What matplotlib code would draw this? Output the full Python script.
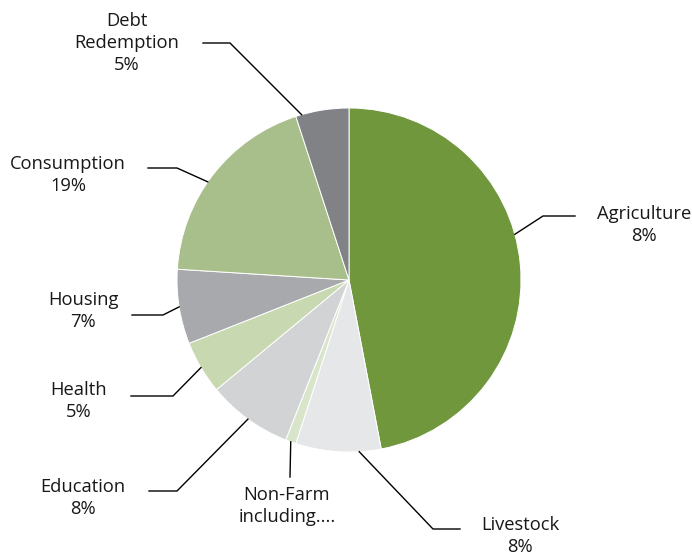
import numpy as np
import matplotlib
matplotlib.use("Agg")
import matplotlib.pyplot as plt

# slice data, clockwise from 12 o'clock
categories = ["Agriculture", "Livestock", "Non-Farm", "Education", "Health",
              "Housing", "Consumption", "Debt\nRedemption"]
shares = [47, 8, 1, 8, 5, 7, 19, 5]
label_texts = ["Agriculture\n8%", "Livestock\n8%", "Non-Farm\nincluding....",
               "Education\n8%", "Health\n5%", "Housing\n7%",
               "Consumption\n19%", "Debt\nRedemption\n5%"]
colors = ["#71973C", "#E6E7E8", "#D9E5CB", "#D1D3D4", "#C8D8B0",
          "#A7A9AC", "#A9BF8B", "#808285"]

W, H = 692, 557
# layout (pixel coords, y downwards)
cx, cy, rad = 349, 280, 172
anchor_shift = [10, 7, 0, 0, 0, 0, 3, 7]   # degrees, moves anchor counterclockwise
elbows = [(543, 216), (433, 529), (290, 477), (177, 491), (173, 396),
          (163, 315), (177, 168), (230, 43)]
line_ends = [(575, 216), (460, 529), (290, 477), (149, 491), (131, 396),
             (132, 315), (148, 168), (203, 43)]
text_pos = [(644, 225), (520, 536), (287, 506), (83, 498), (79, 401),
            (83, 311), (68, 175), (127, 43)]

plt.rcParams['font.family'] = ['Open Sans', 'DejaVu Sans']

fig = plt.figure(figsize=(W / 100, H / 100), dpi=100)
ax = fig.add_axes([0, 0, 1, 1])

wedges, _ = ax.pie(shares, colors=colors, startangle=90, counterclock=False,
                   center=(cx, H - cy), radius=rad,
                   wedgeprops=dict(edgecolor='white', linewidth=0.7))

for i, w in enumerate(wedges):
    ang = np.deg2rad((w.theta1 + w.theta2) / 2 + anchor_shift[i])
    ax0 = cx + rad * np.cos(ang)
    ay0 = (H - cy) + rad * np.sin(ang)
    ex, ey = elbows[i]
    lx, ly = line_ends[i]
    ax.plot([ax0, ex, lx], [ay0, H - ey, H - ly], color='black', lw=1.0,
            solid_joinstyle='miter')
    tx, ty = text_pos[i]
    ax.text(tx, H - ty, label_texts[i], ha='center', va='center',
            fontsize=13.2, linespacing=1.3, color='#1a1718')

ax.set_xlim(0, W)
ax.set_ylim(0, H)
ax.set_aspect('equal')
ax.axis('off')

fig.savefig("out.png", dpi=100)
